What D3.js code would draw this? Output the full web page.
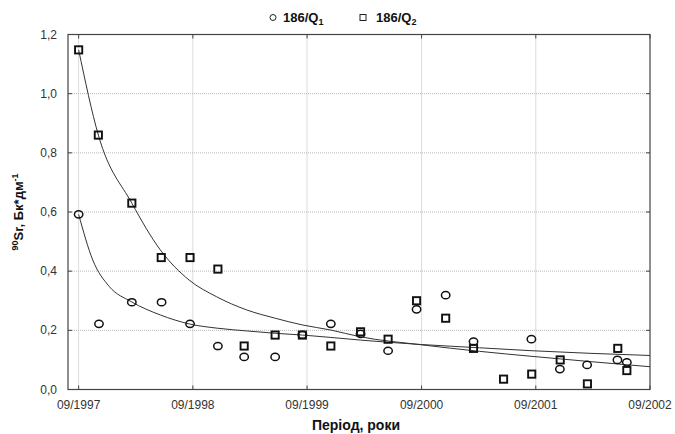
<!DOCTYPE html>
<html>
<head>
<meta charset="utf-8">
<script src="https://cdn.jsdelivr.net/npm/d3@7"></script>
<style>
  body { margin: 0; background: #fff; }
  svg { display: block; font-family: "Liberation Sans", Arial, sans-serif; }
  .grid line { stroke: #b8b8b8; stroke-dasharray: 1,1; }
  .tick-label { font-size: 12px; fill: #333; }
</style>
</head>
<body>
<div id="chart"></div>
<script>
// Q1 series (circles)
const q1Dates = ['1997-09-01', '1997-11-05', '1998-02-18', '1998-05-24', '1998-08-23', '1998-11-20',
    '1999-02-12', '1999-05-22', '1999-08-17', '1999-11-16', '2000-02-19', '2000-05-17',
    '2000-08-16', '2000-11-17', '2001-02-14', '2001-08-18', '2001-11-17', '2002-02-12',
    '2002-05-20', '2002-06-19'];
const q1Values = [0.592, 0.222, 0.295, 0.295, 0.222, 0.147,
    0.110, 0.110, 0.185, 0.222, 0.188, 0.131,
    0.271, 0.319, 0.162, 0.170, 0.069, 0.083,
    0.100, 0.092];

// Q2 series (squares)
const q2Dates = ['1997-09-01', '1997-11-03', '1998-02-18', '1998-05-23', '1998-08-23', '1998-11-20',
    '1999-02-12', '1999-05-22', '1999-08-17', '1999-11-16', '2000-02-19', '2000-05-17',
    '2000-08-16', '2000-11-17', '2001-02-14', '2001-05-21', '2001-08-19', '2001-11-18',
    '2002-02-13', '2002-05-21', '2002-06-19'];
const q2Values = [1.148, 0.860, 0.630, 0.446, 0.446, 0.407,
    0.147, 0.184, 0.184, 0.147, 0.195, 0.170,
    0.300, 0.241, 0.139, 0.035, 0.052, 0.100,
    0.019, 0.139, 0.064];

// fitted curves
const fit1Dates = ['1997-09-01', '1997-10-16', '1997-12-08', '1998-02-16', '1998-05-20', '1998-08-23',
    '1998-11-20', '1999-02-20', '1999-05-22', '1999-08-18', '1999-11-16', '2000-02-19',
    '2000-09-01', '2001-03-05', '2001-08-20', '2002-09-01'];
const fit1Values = [0.592, 0.438, 0.348, 0.297, 0.252, 0.221,
    0.207, 0.198, 0.190, 0.184, 0.176, 0.167,
    0.152, 0.141, 0.131, 0.115];

const fit2Dates = ['1997-09-01', '1997-11-03', '1998-02-18', '1998-05-20', '1998-08-20', '1998-11-15',
    '1999-02-20', '1999-05-22', '1999-08-18', '1999-11-16', '2000-02-19', '2000-09-01',
    '2001-03-05', '2001-08-20', '2002-09-01'];
const fit2Values = [1.148, 0.860, 0.630, 0.472, 0.370, 0.314,
    0.269, 0.241, 0.218, 0.201, 0.178, 0.151,
    0.129, 0.112, 0.077];

const yTicks = [0, 0.2, 0.4, 0.6, 0.8, 1.0, 1.2];
const xTickLabels = ['09/1997', '09/1998', '09/1999', '09/2000', '09/2001', '09/2002'];

const parseDate = d3.timeParse('%Y-%m-%d');
const parseTick = d3.timeParse('%m/%Y');
const fmtY = d => d3.format('.1f')(d).replace('.', ',');

const width = 675, height = 434;
const margin = { top: 34.5, right: 25, bottom: 44.5, left: 68 };
const innerW = width - margin.left - margin.right;
const innerH = height - margin.top - margin.bottom;

const svg = d3.select('#chart').append('svg')
    .attr('width', width)
    .attr('height', height);

const x = d3.scaleTime()
    .domain([parseDate('1997-07-29'), parseDate('2002-09-01')])
    .range([margin.left, margin.left + innerW]);

const y = d3.scaleLinear()
    .domain([0, 1.2])
    .range([margin.top + innerH, margin.top]);

const xTicks = xTickLabels.map(parseTick);

// grid
const grid = svg.append('g').attr('class', 'grid');
grid.selectAll('.gy').data(yTicks.slice(1, -1)).enter().append('line')
    .attr('x1', margin.left).attr('x2', margin.left + innerW)
    .attr('y1', d => y(d)).attr('y2', d => y(d));
grid.selectAll('.gx').data(xTicks.slice(0, -1)).enter().append('line')
    .attr('x1', d => x(d)).attr('x2', d => x(d))
    .attr('y1', margin.top).attr('y2', margin.top + innerH);

// inner tick marks on all four sides
const tickLen = 4;
const ticksG = svg.append('g').attr('stroke', '#444').attr('stroke-width', 1);
yTicks.forEach(v => {
    ticksG.append('line').attr('x1', margin.left).attr('x2', margin.left + tickLen)
        .attr('y1', y(v)).attr('y2', y(v));
    ticksG.append('line').attr('x1', margin.left + innerW).attr('x2', margin.left + innerW - tickLen)
        .attr('y1', y(v)).attr('y2', y(v));
});
xTicks.forEach(d => {
    ticksG.append('line').attr('x1', x(d)).attr('x2', x(d))
        .attr('y1', margin.top + innerH).attr('y2', margin.top + innerH - tickLen);
    ticksG.append('line').attr('x1', x(d)).attr('x2', x(d))
        .attr('y1', margin.top).attr('y2', margin.top + tickLen);
});

// frame
svg.append('rect')
    .attr('x', margin.left).attr('y', margin.top)
    .attr('width', innerW).attr('height', innerH)
    .attr('fill', 'none').attr('stroke', '#444').attr('stroke-width', 1.2);

// tick labels
svg.selectAll('.ylab').data(yTicks).enter().append('text')
    .attr('class', 'tick-label')
    .attr('x', margin.left - 11)
    .attr('y', d => y(d) + 4)
    .attr('text-anchor', 'end')
    .text(fmtY);

svg.selectAll('.xlab').data(xTicks).enter().append('text')
    .attr('class', 'tick-label')
    .attr('x', d => x(d))
    .attr('y', margin.top + innerH + 19)
    .attr('text-anchor', 'middle')
    .text(d3.timeFormat('%m/%Y'));

// fitted curves
const line = d3.line()
    .x(d => x(d[0]))
    .y(d => y(d[1]))
    .curve(d3.curveMonotoneX);

const fit1 = fit1Dates.map((d, i) => [parseDate(d), fit1Values[i]]);
const fit2 = fit2Dates.map((d, i) => [parseDate(d), fit2Values[i]]);

svg.append('path').datum(fit1).attr('d', line)
    .attr('fill', 'none').attr('stroke', '#333').attr('stroke-width', 1);
svg.append('path').datum(fit2).attr('d', line)
    .attr('fill', 'none').attr('stroke', '#333').attr('stroke-width', 1);

// points
const q2 = q2Dates.map((d, i) => [parseDate(d), q2Values[i]]);
const q1 = q1Dates.map((d, i) => [parseDate(d), q1Values[i]]);

svg.selectAll('.q1').data(q1).enter().append('ellipse')
    .attr('cx', d => x(d[0])).attr('cy', d => y(d[1]))
    .attr('rx', 4.2).attr('ry', 3.6)
    .attr('fill', 'none').attr('stroke', '#111').attr('stroke-width', 1.5);

const sq = 7.2;
svg.selectAll('.q2').data(q2).enter().append('rect')
    .attr('x', d => x(d[0]) - sq / 2).attr('y', d => y(d[1]) - sq / 2)
    .attr('width', sq).attr('height', sq)
    .attr('fill', 'none').attr('stroke', '#111').attr('stroke-width', 1.9);

// legend
const legend = svg.append('g').attr('font-size', 13).attr('font-weight', 'bold').attr('fill', '#111');
legend.append('circle').attr('cx', 273).attr('cy', 17.5).attr('r', 3)
    .attr('fill', 'none').attr('stroke', '#222').attr('stroke-width', 1);
const t1 = legend.append('text').attr('x', 283).attr('y', 22);
t1.append('tspan').text('186/Q');
t1.append('tspan').attr('font-size', 9).attr('dy', 3).text('1');
legend.append('rect').attr('x', 360).attr('y', 14.5).attr('width', 6).attr('height', 6)
    .attr('fill', 'none').attr('stroke', '#222').attr('stroke-width', 1);
const t2 = legend.append('text').attr('x', 376).attr('y', 22);
t2.append('tspan').text('186/Q');
t2.append('tspan').attr('font-size', 9).attr('dy', 3).text('2');

// axis titles
svg.append('text')
    .attr('x', margin.left + innerW / 2 - 3)
    .attr('y', 430)
    .attr('text-anchor', 'middle')
    .attr('font-size', 14).attr('font-weight', 'bold').attr('fill', '#111')
    .text('Період, роки');

const yt = svg.append('text')
    .attr('transform', `translate(23,${margin.top + innerH / 2}) rotate(-90)`)
    .attr('text-anchor', 'middle')
    .attr('font-size', 13).attr('font-weight', 'bold').attr('fill', '#111');
yt.append('tspan').attr('font-size', 9).attr('dy', -5).text('90');
yt.append('tspan').attr('dy', 5).text('Sr, Бк*дм');
yt.append('tspan').attr('font-size', 9).attr('dy', -5).text('-1');
</script>
</body>
</html>
